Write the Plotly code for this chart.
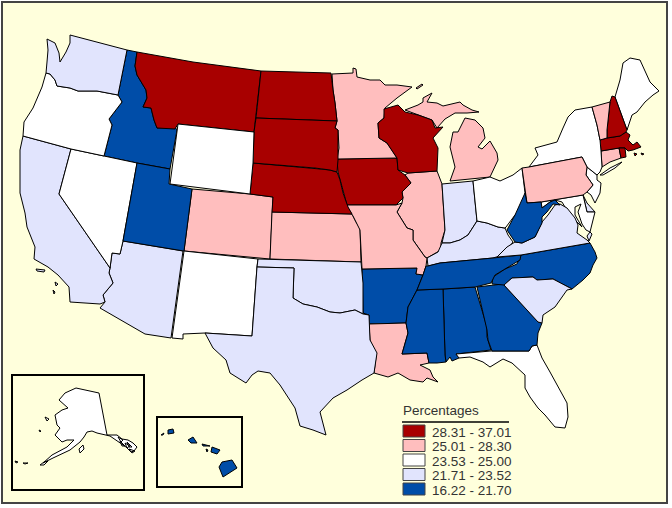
import plotly.graph_objects as go

# class breaks and colours of the legend, highest class first
class_labels = ["28.31 - 37.01", "25.01 - 28.30", "23.53 - 25.00", "21.71 - 23.52", "16.22 - 21.70"]
class_floor = [28.31, 25.01, 23.53, 21.71, 16.22]
class_colors = ["#A80000", "#FFBEBE", "#FFFFFF", "#E1E4FD", "#004DA8"]

state_codes = ["AL", "AK", "AZ", "AR", "CA", "CO", "CT", "DE", "DC", "FL", "GA", "HI", "ID", "IL", "IN", "IA", "KS",
               "KY", "LA", "ME", "MD", "MA", "MI", "MN", "MS", "MO", "MT", "NE", "NV", "NH", "NJ", "NM", "NY", "NC",
               "ND", "OH", "OK", "OR", "PA", "RI", "SC", "SD", "TN", "TX", "UT", "VT", "VA", "WA", "WV", "WI", "WY"]
state_values = [20.0, 24.0, 22.5, 20.5, 22.8, 26.5, 26.0, 23.0, 37.0, 24.2, 20.8, 18.5, 19.5, 26.2, 22.6, 29.5, 26.4,
                22.0, 26.8, 24.5, 24.3, 30.0, 26.0, 27.5, 18.0, 27.0, 30.5, 29.0, 24.0, 30.2, 24.4, 24.1, 24.8, 20.3,
                33.0, 24.6, 22.9, 24.2, 26.6, 31.5, 22.2, 32.0, 19.8, 22.4, 16.2, 27.2, 23.2, 23.4, 19.0, 29.2, 24.3]

# state outlines. None starts another island
AL = [(443, 289), (475, 287), (487, 327), (487, 337), (491, 350), (456, 354), (459, 358), (452, 361), (450, 357),
      (446, 362), (445, 355)]
AK = [(76, 388), (88, 391), (99, 393), (107, 435), (117, 435), (122, 439), (128, 440), (133, 443), (137, 447), (134, 451),
      (131, 452), (126, 447), (120, 443), (110, 436), (97, 433), (92, 431), (87, 432), (84, 437), (80, 442), (70, 450),
      (53, 458), (43, 463), (52, 455), (67, 447), (74, 440), (67, 440), (62, 442), (55, 435), (60, 428), (57, 425),
      (55, 415), (62, 410), (68, 408), (59, 400), (65, 393), None,
      (79, 449), (83, 445), (84, 449), (80, 453), None,
      (45, 417), (49, 419), (47, 421), None, (39, 430), (41, 431), (40, 432), None,
      (15, 461), (18, 462), (16, 463), None, (23, 463), (28, 463), (25, 464), None,
      (40, 465), (44, 462), (48, 461), (44, 465), None,
      (118, 437), (123, 440), (121, 442), None, (125, 443), (130, 446), (127, 448), None,
      (129, 449), (135, 451), (132, 453), None, (120, 441), (125, 446), (122, 446), None, (127, 442), (132, 447), (129, 447)]
AZ = [(123, 241), (183, 251), (171, 338), (145, 334), (100, 308), (105, 302), (103, 295), (113, 283), (109, 273), (110, 268),
      (112, 253), (120, 254)]
AR = [(362, 269), (417, 268), (416, 274), (423, 275), (417, 290), (408, 307), (406, 323), (369, 324), (369, 315), (363, 313)]
CA = [(23, 136), (71, 149), (59, 194), (110, 268), (109, 273), (113, 283), (103, 295), (105, 302), (100, 304), (70, 302),
      (69, 287), (58, 275), (48, 267), (34, 259), (35, 247), (27, 227), (25, 213), (20, 193), (20, 150), None,
      (36, 269), (45, 270), (44, 272), (37, 271), None, (55, 282), (58, 284), (56, 286), None, (53, 290), (55, 292), (54, 294)]
CO = [(192, 189), (250, 194), (273, 197), (270, 259), (184, 251)]
CT = [(601, 151), (619, 148), (621, 158), (610, 162), (602, 167)]
DE = [(583, 195), (587, 203), (595, 212), (587, 212)]
DC = [(571, 205), (575, 209), (571, 213), (567, 209)]
FL = [(456, 354), (491, 351), (529, 351), (532, 346), (537, 345), (542, 358), (550, 372), (558, 387), (567, 403), (568, 417),
      (565, 428), (555, 427), (545, 415), (538, 408), (530, 397), (525, 388), (525, 375), (512, 363), (503, 359), (490, 367),
      (483, 362), (470, 357), (459, 358)]
GA = [(477, 287), (503, 284), (518, 300), (538, 322), (542, 323), (538, 333), (537, 345), (532, 346), (529, 351), (492, 351),
      (488, 340), (487, 330)]
HI = [(222, 462), (232, 460), (237, 468), (223, 477), (219, 467), None,
      (212, 447), (220, 450), (217, 454), (211, 452), None,
      (202, 444), (210, 446), (203, 446), None, (206, 449), (208, 450), (207, 452), None,
      (188, 440), (193, 437), (197, 443), (191, 443), None,
      (168, 430), (173, 429), (174, 433), (168, 434), None, (161, 435), (164, 433), (163, 435)]
ID = [(127, 50), (137, 52), (135, 66), (137, 75), (146, 90), (147, 98), (143, 107), (151, 108), (154, 120), (157, 128),
      (175, 127), (177, 130), (170, 169), (137, 163), (104, 156), (112, 125), (109, 119), (122, 102), (118, 95)]
IL = [(408, 173), (437, 171), (442, 184), (445, 230), (441, 243), (441, 250), (427, 258), (425, 257), (413, 240), (413, 230),
      (407, 228), (397, 212), (402, 203), (403, 198), (402, 192), (411, 183), (405, 175)]
IN = [(442, 184), (473, 181), (477, 221), (468, 235), (460, 240), (450, 243), (442, 243), (445, 230)]
IA = [(337, 159), (397, 158), (398, 170), (405, 175), (411, 183), (402, 192), (403, 198), (396, 205), (347, 205), (342, 185),
      (338, 172)]
KS = [(272, 212), (352, 214), (356, 222), (360, 228), (361, 262), (270, 259)]
KY = [(428, 266), (427, 258), (438, 252), (442, 243), (450, 243), (460, 240), (468, 235), (477, 221), (487, 223), (498, 227),
      (505, 228), (508, 235), (513, 242), (503, 255), (493, 258), (440, 263)]
LA = [(369, 324), (406, 323), (408, 333), (402, 354), (427, 353), (429, 363), (420, 365), (430, 370), (433, 377), (438, 382),
      (427, 378), (423, 382), (410, 380), (398, 373), (388, 377), (374, 373), (376, 357), (370, 340)]
ME = [(615, 97), (620, 80), (623, 63), (630, 58), (640, 60), (650, 82), (659, 91), (653, 95), (645, 102), (637, 112), (632, 115),
      (627, 130)]
MD = [(541, 202), (583, 195), (587, 212), (595, 212), (590, 232), (586, 230), (582, 224), (578, 212), (581, 204), (575, 207),
      (575, 215), (582, 227), (575, 220), (568, 212), (562, 202), (555, 200), (550, 202), (542, 208)]
MA = [(600, 140), (607, 138), (620, 136), (626, 132), (630, 135), (628, 140), (633, 145), (637, 142), (641, 147), (633, 150),
      (628, 151), (625, 148), (619, 148), (601, 151), None, (634, 153), (637, 154), (635, 156), None, (641, 153), (644, 154),
      (642, 155)]
MI = [(465, 118), (475, 120), (483, 128), (485, 138), (478, 147), (482, 149), (490, 141), (497, 153), (498, 160), (490, 177),
      (450, 181), (455, 167), (450, 147), (453, 132), (458, 132), (462, 123), None,
      (405, 110), (418, 105), (423, 102), (423, 98), (432, 93), (427, 102), (437, 103), (443, 106), (460, 102), (463, 105),
      (472, 110), (479, 112), (467, 113), (455, 113), (445, 119), (437, 128), (432, 120), (418, 115), None,
      (416, 88), (422, 84), (423, 85), (417, 89)]
MN = [(332, 74), (353, 73), (353, 68), (356, 69), (357, 77), (370, 80), (380, 80), (385, 85), (397, 85), (412, 87), (397, 98),
      (385, 108), (384, 118), (378, 123), (379, 138), (387, 143), (397, 158), (337, 159), (339, 148), (338, 130), (335, 128),
      (337, 121), (335, 103), (333, 90)]
MS = [(417, 290), (443, 289), (445, 355), (446, 362), (437, 363), (429, 363), (427, 353), (402, 354), (408, 333), (406, 323),
      (408, 307)]
MO = [(346, 205), (396, 205), (402, 203), (397, 212), (407, 228), (413, 230), (413, 240), (425, 257), (427, 258), (426, 266),
      (423, 275), (416, 274), (417, 268), (362, 269), (360, 230), (353, 216)]
MT = [(137, 52), (193, 62), (261, 71), (256, 118), (254, 132), (178, 124), (175, 129), (157, 128), (154, 120), (151, 108),
      (143, 107), (147, 98), (146, 90), (137, 75), (135, 66)]
NE = [(253, 163), (315, 168), (320, 169), (330, 170), (337, 172), (340, 180), (343, 193), (348, 207), (352, 214), (272, 212),
      (273, 197), (250, 194)]
NV = [(71, 149), (137, 163), (123, 241), (120, 254), (112, 253), (110, 268), (59, 194)]
NH = [(612, 96), (615, 97), (627, 130), (626, 132), (620, 136), (607, 138), (607, 130), (610, 102)]
NJ = [(587, 167), (597, 175), (597, 180), (601, 183), (600, 193), (595, 203), (591, 195), (587, 192), (593, 185), (586, 175)]
NM = [(184, 251), (258, 259), (257, 267), (252, 336), (205, 333), (183, 334), (183, 339), (172, 338)]
NY = [(529, 167), (538, 155), (535, 148), (557, 142), (563, 128), (568, 117), (575, 110), (592, 107), (597, 125), (600, 140),
      (601, 151), (602, 167), (600, 172), (597, 175), (587, 167), (582, 157), None,
      (600, 175), (610, 168), (622, 162), (615, 168), (603, 175)]
NC = [(521, 255), (590, 243), (595, 252), (597, 258), (593, 265), (590, 273), (583, 280), (572, 289), (553, 279), (537, 280),
      (533, 277), (512, 278), (504, 285), (492, 284), (493, 277), (505, 269), (517, 264)]
ND = [(261, 71), (331, 73), (333, 90), (335, 103), (337, 121), (256, 118)]
OH = [(473, 181), (490, 177), (500, 181), (513, 175), (522, 168), (525, 193), (527, 203), (515, 215), (506, 227), (505, 228),
      (498, 227), (487, 223), (477, 221)]
OK = [(258, 259), (361, 262), (363, 283), (363, 314), (355, 310), (340, 313), (330, 312), (317, 307), (303, 304), (293, 298),
      (294, 268), (257, 267)]
OR = [(46, 73), (50, 74), (55, 80), (57, 86), (70, 88), (78, 91), (97, 91), (118, 95), (122, 102), (109, 119), (112, 125),
      (104, 156), (71, 149), (23, 136), (24, 122), (33, 108), (42, 87)]
PA = [(522, 168), (529, 167), (582, 157), (587, 167), (586, 175), (593, 185), (587, 192), (583, 195), (541, 202), (527, 203)]
RI = [(619, 148), (625, 148), (626, 157), (621, 158)]
SC = [(504, 285), (512, 278), (533, 277), (537, 280), (553, 279), (572, 289), (567, 290), (555, 307), (543, 315), (542, 323),
      (538, 322), (518, 300)]
SD = [(256, 118), (337, 121), (335, 128), (338, 130), (338, 160), (337, 172), (330, 170), (320, 169), (315, 168), (253, 163),
      (254, 132)]
TN = [(428, 266), (440, 263), (493, 258), (521, 255), (520, 260), (507, 268), (495, 275), (491, 283), (475, 287), (443, 289),
      (417, 290), (423, 275), (426, 266)]
TX = [(257, 267), (294, 268), (293, 298), (303, 304), (317, 307), (330, 312), (340, 313), (355, 310), (363, 314), (369, 315),
      (370, 340), (377, 353), (374, 373), (362, 380), (347, 390), (333, 398), (320, 412), (322, 420), (326, 435), (313, 430),
      (300, 426), (295, 408), (280, 385), (270, 373), (258, 371), (252, 375), (246, 383), (230, 373), (226, 360), (213, 348),
      (205, 333), (252, 336)]
UT = [(137, 163), (170, 169), (169, 184), (192, 189), (184, 251), (123, 241)]
VT = [(592, 107), (610, 102), (607, 130), (607, 138), (600, 140), (597, 125)]
VA = [(497, 257), (507, 247), (515, 242), (522, 243), (535, 237), (542, 222), (548, 215), (555, 205), (560, 204), (567, 208),
      (571, 213), (575, 218), (578, 225), (577, 233), (587, 240), (590, 243), (521, 255), None,
      (590, 232), (592, 234), (589, 241), (587, 236)]
WA = [(47, 39), (48, 50), (47, 62), (46, 73), (50, 74), (55, 80), (57, 86), (70, 88), (78, 91), (97, 91), (118, 95), (127, 50),
      (70, 35), (70, 43), (66, 52), (62, 58), (60, 62), (59, 53), (55, 43)]
WV = [(525, 193), (527, 203), (541, 202), (542, 208), (550, 202), (555, 200), (560, 205), (553, 204), (547, 212), (542, 217),
      (542, 223), (535, 237), (522, 243), (515, 242), (507, 230), (515, 215)]
WI = [(384, 109), (398, 105), (405, 112), (418, 115), (432, 120), (435, 128), (443, 127), (433, 138), (438, 148), (437, 171),
      (408, 173), (398, 170), (397, 158), (387, 143), (379, 138), (378, 123), (384, 118)]
WY = [(178, 124), (254, 132), (253, 163), (250, 194), (170, 184)]

state_outlines = [AL, AK, AZ, AR, CA, CO, CT, DE, DC, FL, GA, HI, ID, IL, IN, IA, KS, KY, LA, ME, MD, MA, MI, MN, MS, MO, MT,
                  NE, NV, NH, NJ, NM, NY, NC, ND, OH, OK, OR, PA, RI, SC, SD, TN, TX, UT, VT, VA, WA, WV, WI, WY]

PAPER = "#FFFFDC"
TEXT = "#333333"


def class_color(value):
    for floor, color in zip(class_floor, class_colors):
        if value >= floor:
            return color
    return class_colors[-1]


def closed_xy(outline):
    # every island has to come back to its own first point
    x, y = [], []
    first = None
    for p in outline + [None]:
        if p is None:
            x += [first[0], None]
            y += [first[1], None]
            first = None
        else:
            first = first or p
            x.append(p[0])
            y.append(p[1])
    return x, y


fig = go.Figure()

for code, value, outline in zip(state_codes, state_values, state_outlines):
    x, y = closed_xy(outline)
    fig.add_trace(go.Scatter(x=x, y=y, mode="lines", fill="toself", fillcolor=class_color(value),
                             line=dict(color="black", width=1), name=code, hoverinfo="name", showlegend=False))

# frame of the page and the two inset boxes
shapes = [dict(type="rect", x0=2, y0=2, x1=667, y1=503, line=dict(color="#444444", width=2), fillcolor=PAPER, layer="below"),
          dict(type="rect", x0=12, y0=375, x1=144, y1=490, line=dict(color="black", width=2)),
          dict(type="rect", x0=157, y0=417, x1=242, y1=487, line=dict(color="black", width=2)),
          dict(type="line", x0=402, y0=422, x1=509, y1=422, line=dict(color="black", width=1.5))]

annotations = [dict(x=401, y=410, text="Percentages", showarrow=False, xanchor="left", yanchor="middle",
                    font=dict(size=13.5, color=TEXT))]

for i, (label, color) in enumerate(zip(class_labels, class_colors)):
    top = 425 + i * 14.5
    shapes.append(dict(type="rect", x0=403, y0=top, x1=425, y1=top + 12, fillcolor=color, line=dict(color="#444444", width=1)))
    annotations.append(dict(x=430, y=top + 7, text=label, showarrow=False, xanchor="left", yanchor="middle",
                            font=dict(size=13.5, color=TEXT)))

fig.update_layout(width=672, height=508, margin=dict(l=0, r=0, t=0, b=0), paper_bgcolor="white", plot_bgcolor="white",
                  font=dict(family="Liberation Sans"), shapes=shapes, annotations=annotations, showlegend=False,
                  xaxis=dict(range=[0, 672], visible=False, fixedrange=True),
                  yaxis=dict(range=[508, 0], visible=False, fixedrange=True))

fig.write_html("out.html", config=dict(displayModeBar=False), post_script="document.body.style.margin='0';")
